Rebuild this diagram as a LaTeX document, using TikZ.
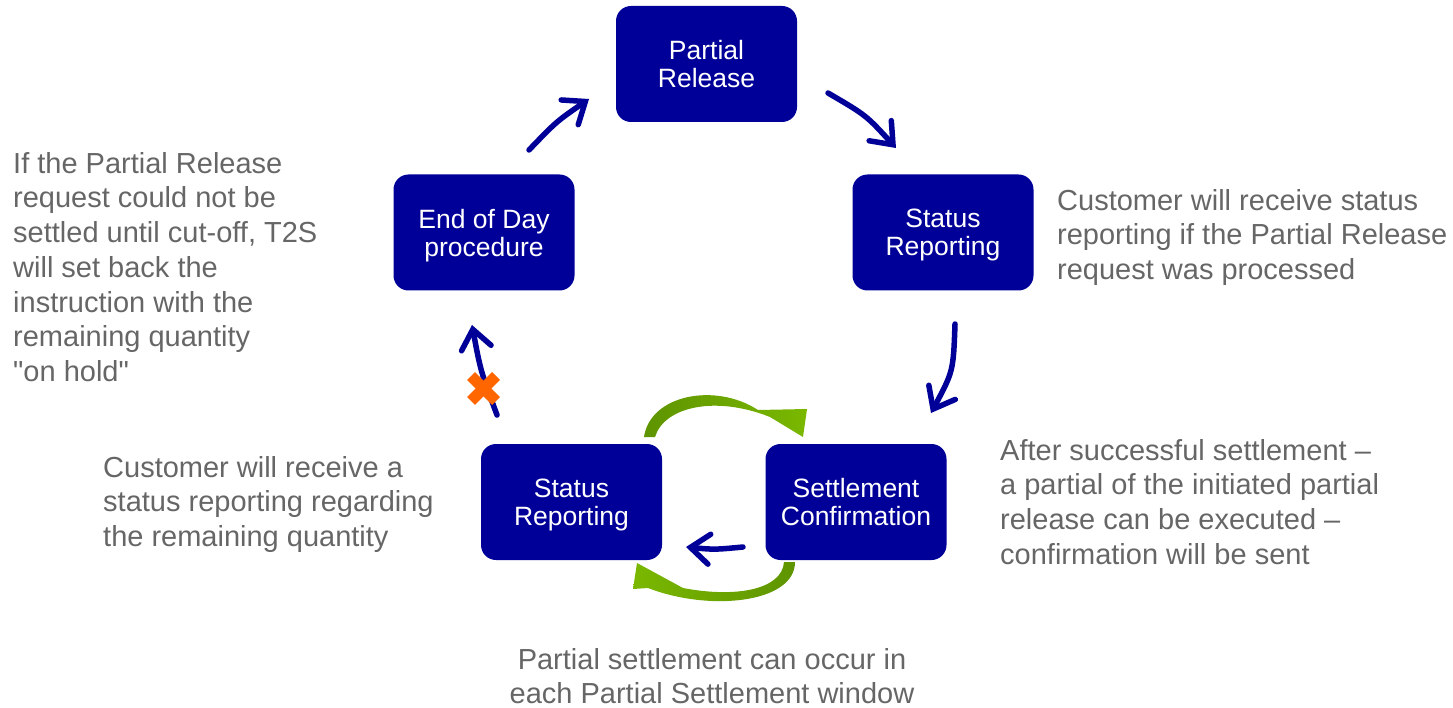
\documentclass[tikz,border=0pt]{standalone}
\usepackage{fontspec}
\setmainfont{Liberation Sans}
\usetikzlibrary{arrows.meta}
\definecolor{navy}{HTML}{000099}
\definecolor{txtgray}{HTML}{666666}
\definecolor{xorange}{HTML}{FF6600}
\definecolor{gdark}{HTML}{5E9400}
\definecolor{glight}{HTML}{7AB800}
\newcommand\straightquote{\XeTeXglyph\XeTeXcharglyph"22\relax}
\newcommand\nodepth[1]{\raisebox{0pt}[\height][0pt]{#1}}
\begin{document}
\begin{tikzpicture}[x=1pt,y=-1pt,
  stepbox/.style={fill=navy, rounded corners=15pt, minimum width=181pt, minimum height=116pt,
    text=white, align=center, font=\fontsize{26.5}{28}\selectfont, inner sep=0pt},
  note/.style={text=txtgray, font=\fontsize{29}{34.7}\selectfont, inner sep=0pt, align=left, anchor=north west},
  flow/.style={draw=navy, line width=5.5pt, line cap=round,
    -{Straight Barb[length=19pt,width=30pt,line cap=round]}},
  cross/.style={draw=xorange, line width=11pt}]
\useasboundingbox (0,0) rectangle (1453,708);

% boxes
\node[stepbox] (pr)  at (706.5,64)  {Partial\\Release};
\node[stepbox] (eod) at (484,232.5) {End of Day\\\nodepth{procedure}};
\node[stepbox] (sr1) at (943,232.5) {Status\\\nodepth{Reporting}};
\node[stepbox] (sc)  at (856,502)   {Settlement\\Confirmation};
\node[stepbox] (sr2) at (571.5,502) {Status\\\nodepth{Reporting}};

% arrow end points
\coordinate (a1s) at (529,150); \coordinate (a1e) at (589,99);
\coordinate (a2s) at (828,93);  \coordinate (a2e) at (896,148);
\coordinate (a3s) at (955,324); \coordinate (a3e) at (931,413);
\coordinate (a4s) at (497,415); \coordinate (a4e) at (472,325);
\coordinate (a5s) at (743,547); \coordinate (a5e) at (686,547);

\draw[flow] (a1s) .. controls (556.4,121.5) .. (a1e);
\draw[flow] (a2s) .. controls (866.2,115.3) .. (a2e);
\draw[flow] (a3s) .. controls (953.3,371.3) .. (a3e);
\draw[flow] (a4s) .. controls (480.6,371) .. (a4e);
\draw[flow] (a5s) .. controls (714.5,549.7) .. (a5e);

% orange cross
\draw[cross] (471,376) -- (496,401);
\draw[cross] (471,401) -- (496,376);

% green curved arrows
\shade[left color=gdark, right color=glight]
  (644,437) .. controls (650,395) and (715,382) .. (758,410)
  -- (807,409) -- (803,437) -- (770,417)
  .. controls (715,395) and (664,407) .. (655,437) -- cycle;
\shade[left color=glight, right color=gdark]
  (795,562) .. controls (795,603) and (710,612) .. (648,588)
  -- (633,589) -- (637,563) -- (683,588)
  .. controls (735,598) and (782,590) .. (784,562) -- cycle;

% texts
\node[note] (t1) at (13,152) {If the Partial Release\\request could not be\\settled until cut-off, T2S\\will set back the\\instruction with the\\remaining quantity\\\straightquote on hold\straightquote};
\node[note] (t2) at (1057,189) {Customer will receive status\\reporting if the Partial Release\\request was processed};
\node[note] (t3) at (1000,439) {After successful settlement –\\a partial of the initiated partial\\release can be executed –\\confirmation will be sent};
\node[note] (t4) at (103,456) {Customer will receive a\\status reporting regarding\\the remaining quantity};
\node[note, align=center, anchor=north] (t5) at (712,648) {Partial settlement can occur in\\each Partial Settlement window};
\end{tikzpicture}
\end{document}
